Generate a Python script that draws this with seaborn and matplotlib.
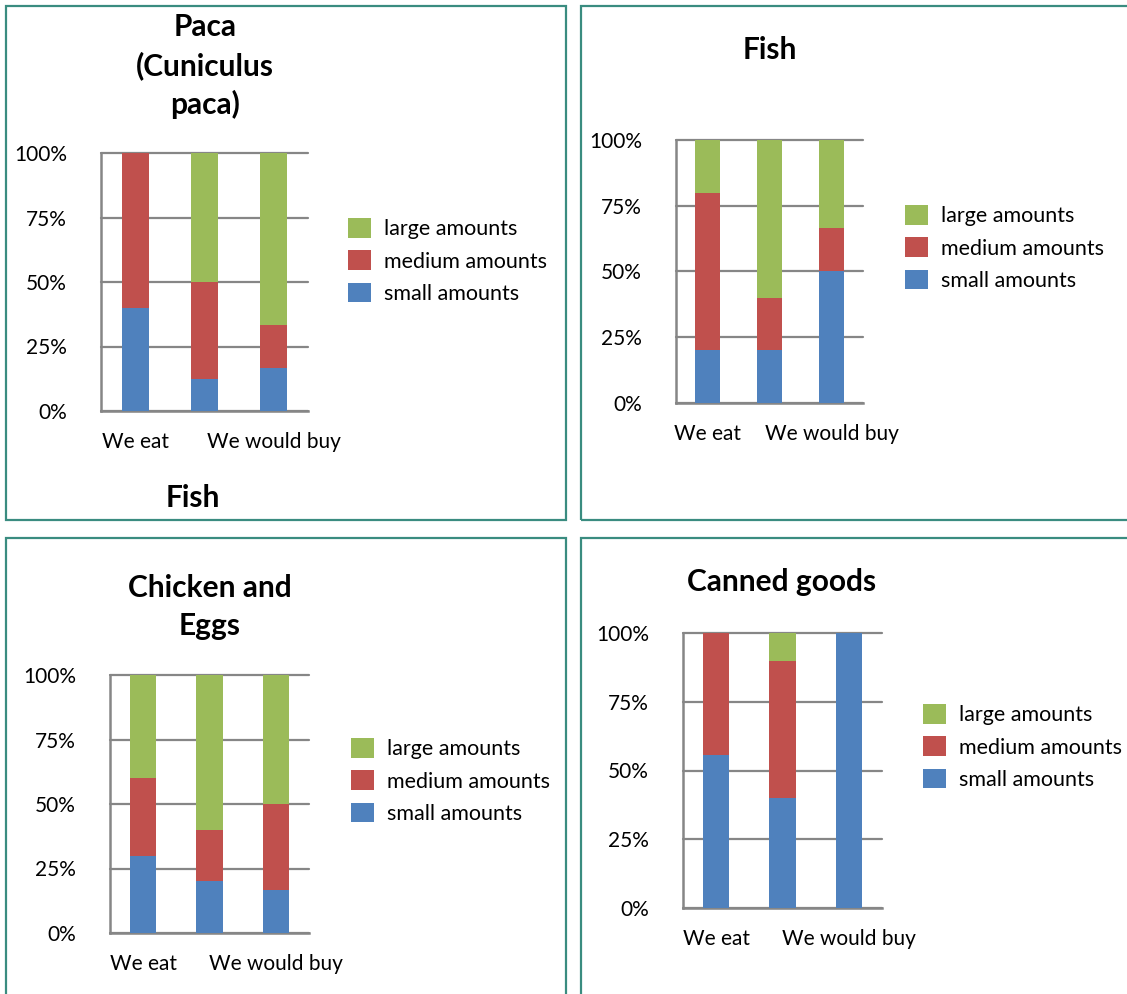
import matplotlib
matplotlib.use("Agg")
import matplotlib.pyplot as plt
import seaborn as sns
import pandas as pd
from matplotlib.patches import Rectangle, Patch
from matplotlib.ticker import FixedLocator

sns.set_style("white")
plt.rcParams['font.family'] = ['Lato', 'DejaVu Sans']
plt.rcParams['text.color'] = 'black'
plt.rcParams['xtick.labelcolor'] = 'black'
plt.rcParams['ytick.labelcolor'] = 'black'

W, H = 1127, 994

# Shared categories and labels
categories = ["We eat", "We buy", "We would buy"]
tick_labels = ["We eat", "", "We would buy"]
levels = ["large amounts", "medium amounts", "small amounts"]
y_ticks = [0, 25, 50, 75, 100]
y_tick_labels = ["0%", "25%", "50%", "75%", "100%"]

# Shares (%) per category
paca_small = [40.0, 12.5, 16.7]
paca_medium = [60.0, 37.5, 16.7]
paca_large = [0.0, 50.0, 66.6]

fish_small = [20.0, 20.0, 50.0]
fish_medium = [60.0, 20.0, 16.7]
fish_large = [20.0, 60.0, 33.3]

chicken_small = [30.0, 20.0, 16.7]
chicken_medium = [30.0, 20.0, 33.3]
chicken_large = [40.0, 60.0, 50.0]

canned_small = [55.6, 40.0, 100.0]
canned_medium = [44.4, 50.0, 0.0]
canned_large = [0.0, 10.0, 0.0]

BLUE, RED, GREEN = "#4F81BD", "#C0504D", "#9BBB59"
GRID = "#868686"
FRAME = "#3a8c80"
FS = 15

fig = plt.figure(figsize=(W / 100, H / 100), dpi=100)


def px_box(x0, x1, ytop, ybot):
    return [x0 / W, 1 - ybot / H, (x1 - x0) / W, (ybot - ytop) / H]


def frame(x0, y0, x1, y1):
    fig.patches.append(Rectangle((x0 / W, 1 - y1 / H), (x1 - x0) / W, (y1 - y0) / H,
                                 transform=fig.transFigure, fill=False,
                                 edgecolor=FRAME, linewidth=1.6, zorder=0))


def draw_panel(box, small, medium, large, legend_xy):
    ax = fig.add_axes(px_box(*box))
    df = pd.DataFrame({"category": categories, "small": small,
                       "medium": medium, "large": large})
    df["to_medium"] = df["small"] + df["medium"]
    df["to_large"] = df["to_medium"] + df["large"]
    # stacked look: cumulative totals drawn back to front
    for col, color in [("to_large", GREEN), ("to_medium", RED), ("small", BLUE)]:
        sns.barplot(data=df, x="category", y=col, color=color, saturation=1,
                    width=0.4, errorbar=None, ax=ax, zorder=3, linewidth=0)
    ax.set_xlim(-0.5, 2.5)
    ax.set_ylim(0, 100)
    ax.set_xlabel("")
    ax.set_ylabel("")
    ax.set_axisbelow(True)
    ax.set_yticks(y_ticks)
    ax.set_yticklabels(y_tick_labels, fontsize=FS)
    ax.set_xticks(range(len(categories)))
    ax.set_xticklabels(tick_labels, fontsize=FS)
    ax.xaxis.set_minor_locator(FixedLocator([-0.5, 0.5, 1.5, 2.5]))
    ax.tick_params(axis="x", which="major", length=0, pad=15)
    ax.tick_params(axis="x", which="minor", length=4.5, width=1.8,
                   color=GRID, direction="out")
    ax.tick_params(axis="y", length=4.5, width=1.8, color=GRID,
                   direction="out", pad=20)
    ax.grid(axis="y", color=GRID, linewidth=1.6)
    ax.grid(axis="x", visible=False)
    for line in ax.get_ygridlines():
        line.set_clip_on(False)
    for side in ("top", "right"):
        ax.spines[side].set_visible(False)
    for side in ("left", "bottom"):
        ax.spines[side].set_color(GRID)
        ax.spines[side].set_linewidth(1.8)
    handles = [Patch(facecolor=c, edgecolor="none", label=l)
               for c, l in zip([GREEN, RED, BLUE], levels)]
    ax.legend(handles=handles, loc="center left",
              bbox_to_anchor=(legend_xy[0] / W, 1 - legend_xy[1] / H),
              bbox_transform=fig.transFigure, frameon=False, fontsize=15.5,
              handlelength=1.05, handleheight=1.0, handletextpad=0.6,
              labelspacing=0.52, borderpad=0, borderaxespad=0)
    return ax


def title(text, x, y):
    fig.text(x / W, 1 - y / H, text, ha="center", va="center",
             fontsize=21.5, fontweight="bold", linespacing=1.42)


# Panel frames
frame(6, 6, 566, 520)
frame(581, 6, 1135, 520)
frame(6, 538, 566, 1005)
frame(581, 538, 1135, 1005)

draw_panel((101, 308, 153, 411), paca_small, paca_medium, paca_large, (348, 261))
draw_panel((676, 863, 140, 403), fish_small, fish_medium, fish_large, (905, 248))
draw_panel((110, 309, 675, 933), chicken_small, chicken_medium, chicken_large, (351, 781))
draw_panel((683, 882, 633, 908), canned_small, canned_medium, canned_large, (923, 747))

title("Paca\n(Cuniculus\npaca)", 205, 66)
title("Fish", 193, 498)
title("Fish", 770, 50)
title("Chicken and\nEggs", 210, 607)
title("Canned goods", 782, 582)

fig.savefig("out.png", dpi=100)
